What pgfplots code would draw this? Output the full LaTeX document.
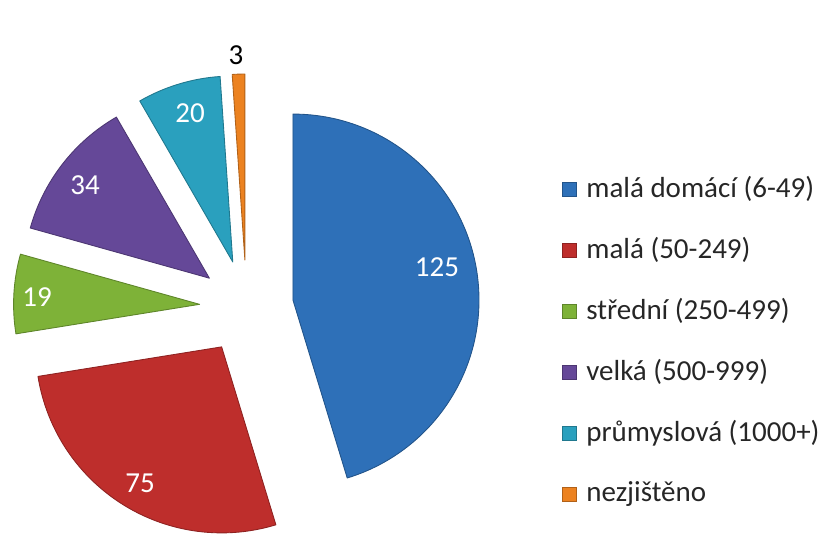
\documentclass[border=0pt]{standalone}
\usepackage{pgfplots}
\pgfplotsset{compat=1.18}
\usepackage{pgfplotstable}
\usepackage{fontspec}
\setmainfont{Carlito}

\definecolor{cBlue}{RGB}{46,112,184}
\definecolor{cRed}{RGB}{190,46,44}
\definecolor{cGreen}{RGB}{126,178,56}
\definecolor{cPurple}{RGB}{101,72,152}
\definecolor{cCyan}{RGB}{42,160,190}
\definecolor{cOrange}{RGB}{236,130,32}

% value, colour, label position (px, y up), label colour, legend text
\pgfplotstableread[col sep=comma]{
value,col,lx,ly,lc,name
125,cBlue,437,269,white,malá domácí (6-49)
75,cRed,140,53,white,malá (50-249)
19,cGreen,37,239,white,střední (250-499)
34,cPurple,85,351,white,velká (500-999)
20,cCyan,190,423,white,průmyslová (1000+)
3,cOrange,236,481,black,nezjištěno
}\piedata

\newcommand\piefont{\fontsize{16.5}{19}\selectfont}

\begin{document}
\begin{tikzpicture}
\begin{axis}[scale only axis, width=16.4cm, height=10.72cm,
  xmin=0, xmax=820, ymin=0, ymax=536, hide axis, clip=false]
\addplot[draw=none] coordinates {(0,0)(820,536)};
\pgfplotsextra{
  \path (axis cs:0,0) rectangle (axis cs:820,536);
  \def\total{0}
  \pgfplotsforeachungrouped \i in {0,...,5}{
    \pgfplotstablegetelem{\i}{value}\of\piedata
    \pgfmathsetmacro\total{\total+\pgfplotsretval}
  }
  \def\cum{0}
  \pgfplotsforeachungrouped \i in {0,...,5}{
    \pgfplotstablegetelem{\i}{value}\of\piedata \let\v\pgfplotsretval
    \pgfplotstablegetelem{\i}{col}\of\piedata \let\col\pgfplotsretval
    \pgfplotstablegetelem{\i}{lx}\of\piedata \let\lx\pgfplotsretval
    \pgfplotstablegetelem{\i}{ly}\of\piedata \let\ly\pgfplotsretval
    \pgfplotstablegetelem{\i}{lc}\of\piedata \let\lc\pgfplotsretval
    \pgfplotstablegetelem{\i}{name}\of\piedata \let\nm\pgfplotsretval
    \pgfmathsetmacro\a{90-\cum/\total*360}
    \pgfmathsetmacro\b{90-(\cum+\v)/\total*360}
    \pgfmathsetmacro\m{(\a+\b)/2}
    \pgfmathsetmacro\px{246.5+47*cos(\m)}
    \pgfmathsetmacro\py{229+47*sin(\m)}
    \fill[\col, draw=\col!75!black, line width=0.5pt, line join=round]
      (axis cs:\px,\py) -- ++(\a:3.72cm)
      arc[start angle=\a, end angle=\b, radius=3.72cm] -- cycle;
    \node[text=\lc, font=\piefont] at (axis cs:\lx,\ly) {\v};
    % legend entry
    \pgfmathsetmacro\ry{536-189-61*\i}
    \fill[\col, draw=\col!75!black, line width=0.3pt]
      (axis cs:562,\ry-7) rectangle (axis cs:576,\ry+7);
    \node[anchor=west, inner sep=0pt, font=\piefont, text=black!85]
      at (axis cs:586,\ry) {\nm};
    \pgfmathsetmacro\cum{\cum+\v}
  }
}
\end{axis}
\end{tikzpicture}
\end{document}
